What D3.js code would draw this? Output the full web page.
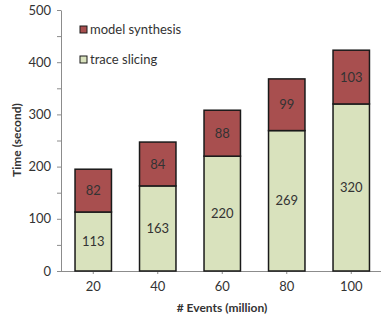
<!DOCTYPE html>
<html>
<head>
<meta charset="utf-8">
<script src="https://cdn.jsdelivr.net/npm/d3@7"></script>
<style>
  html, body { margin: 0; padding: 0; background: #fff; }
  svg text { font-family: Lato, "Open Sans", sans-serif; }
</style>
</head>
<body>
<svg id="chart" width="382" height="322"></svg>
<script>
// Event counts (million) on the x axis
const categories = ["20", "40", "60", "80", "100"];
// Stacked series, bottom to top
const traceSlicing = [113, 163, 220, 269, 320];
const modelSynthesis = [82, 84, 88, 99, 103];
const seriesNames = ["trace slicing", "model synthesis"];
const seriesColors = ["#d9e2bd", "#a84f4f"];
const yTicks = [0, 100, 200, 300, 400, 500];

const svg = d3.select("#chart");
const x0 = 61, x1 = 383.5, yBottom = 271, yTop = 10;

const x = d3.scaleBand().domain(categories).range([x0, x1]).paddingInner(0.435).paddingOuter(0.2175);
const y = d3.scaleLinear().domain([0, 500]).range([yBottom, yTop]);

const rows = categories.map((c, i) => ({ cat: c, "trace slicing": traceSlicing[i], "model synthesis": modelSynthesis[i] }));
const stacked = d3.stack().keys(seriesNames)(rows);

// y axis with minor ticks every 50
const yAxis = svg.append("g").attr("transform", `translate(${x0},0)`)
  .call(d3.axisLeft(y).tickValues(d3.range(0, 501, 50)).tickSize(4).tickSizeOuter(0)
    .tickFormat(d => yTicks.includes(d) ? d : ""));
yAxis.select(".domain").attr("stroke", "#8c8c8c");
yAxis.selectAll(".tick line").attr("stroke", "#8c8c8c");
yAxis.selectAll(".tick text").attr("x", -10).attr("font-size", 13).attr("fill", "#333");

// x axis
const xAxis = svg.append("g").attr("transform", `translate(0,${yBottom})`)
  .call(d3.axisBottom(x).tickSize(3).tickSizeOuter(0));
xAxis.select(".domain").attr("d", `M${x0 - 4},0.5H381`).attr("stroke", "#8c8c8c");
xAxis.selectAll(".tick line").attr("stroke", "#8c8c8c");
xAxis.selectAll(".tick text").attr("y", 11).attr("font-size", 13).attr("fill", "#333");

// stacked bars
const layers = svg.append("g").selectAll("g").data(stacked).join("g")
  .attr("fill", (d, i) => seriesColors[i]);
layers.selectAll("rect").data(d => d).join("rect")
  .attr("x", d => x(d.data.cat))
  .attr("width", x.bandwidth())
  .attr("y", d => y(d[1]))
  .attr("height", d => y(d[0]) - y(d[1]))
  .attr("stroke", "#1a1a1a")
  .attr("stroke-width", 1.5);

// value labels centred inside each segment
svg.append("g").selectAll("g").data(stacked).join("g")
  .selectAll("text").data(d => d).join("text")
  .attr("x", d => x(d.data.cat) + x.bandwidth() / 2)
  .attr("y", d => (y(d[0]) + y(d[1])) / 2)
  .attr("dy", "0.35em")
  .attr("text-anchor", "middle")
  .attr("font-size", 13)
  .attr("fill", "#333")
  .text(d => d[1] - d[0]);

// legend
const legendItems = [
  { name: "model synthesis", color: seriesColors[1], y: 29.5 },
  { name: "trace slicing", color: seriesColors[0], y: 59.5 }
];
const lg = svg.append("g").selectAll("g").data(legendItems).join("g")
  .attr("transform", d => `translate(80,${d.y})`);
lg.append("rect").attr("x", 0).attr("y", -3.5).attr("width", 7).attr("height", 7)
  .attr("fill", d => d.color).attr("stroke", "#1a1a1a").attr("stroke-width", 1);
lg.append("text").attr("x", 10).attr("dy", "0.35em").attr("font-size", 13).attr("fill", "#333")
  .text(d => d.name);

// axis titles
svg.append("text").attr("transform", "translate(17,140) rotate(-90)")
  .attr("text-anchor", "middle").attr("dy", "0.35em")
  .attr("font-size", 12).attr("font-weight", "bold").attr("fill", "#333")
  .text("Time (second)");
svg.append("text").attr("x", 222).attr("y", 308)
  .attr("text-anchor", "middle").attr("dy", "0.35em")
  .attr("font-size", 12).attr("font-weight", "bold").attr("fill", "#333")
  .text("# Events (million)");
</script>
</body>
</html>
